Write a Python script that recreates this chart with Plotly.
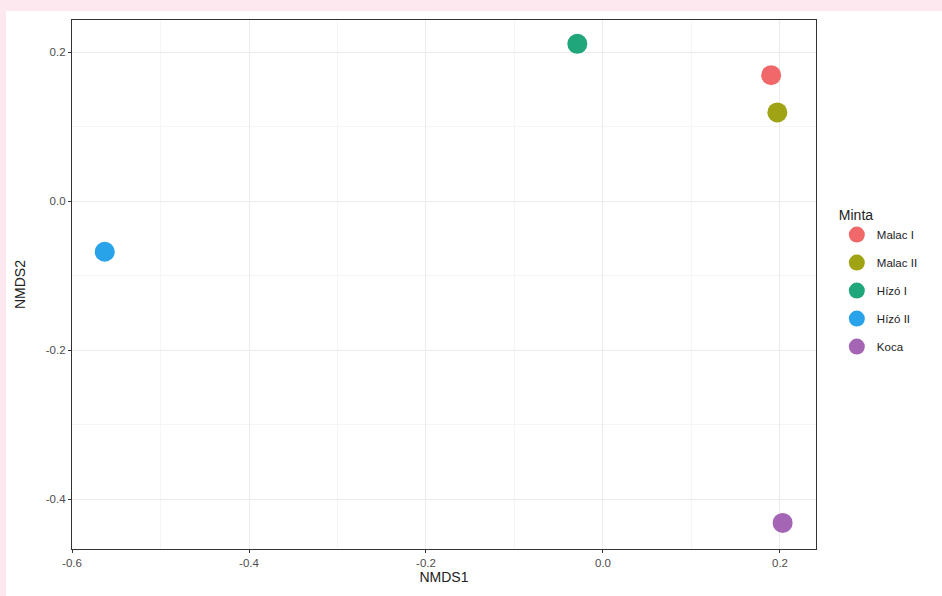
import plotly.graph_objects as go

# NMDS ordination scores per sample group
samples = ["Malac I", "Malac II", "Hízó I", "Hízó II", "Koca"]
nmds1 = [0.190, 0.197, -0.029, -0.563, 0.203]
nmds2 = [0.169, 0.119, 0.211, -0.068, -0.432]
colors = ["#F0686A", "#A0A313", "#1FA67A", "#28A2E8", "#A466B4"]

x_ticks = [-0.6, -0.4, -0.2, 0.0, 0.2]
y_ticks = [-0.4, -0.2, 0.0, 0.2]

fig = go.Figure()
for name, x, y, c in zip(samples, nmds1, nmds2, colors):
    fig.add_trace(go.Scatter(
        x=[x], y=[y], mode="markers", name=name, legendgroup=name,
        marker=dict(size=20, color=c, line=dict(width=0)),
    ))

axis_common = dict(
    showgrid=True, gridcolor="#EBEBEB", gridwidth=1.1,
    zeroline=False, showline=True, linecolor="#333333", linewidth=1.3,
    mirror=True, ticks="outside", ticklen=3, tickcolor="#333333", tickwidth=1.1,
    tickfont=dict(family="Liberation Sans, Arial", size=11.5, color="#4D4D4D"),
    title_font=dict(family="Liberation Sans, Arial", size=14, color="#222222"),
    minor=dict(showgrid=True, gridcolor="#F5F5F5", gridwidth=0.6),
)

fig.update_xaxes(
    **axis_common, range=[-0.6, 0.2407], tickvals=x_ticks,
    ticktext=[f"{v:.1f}" for v in x_ticks], title_text="NMDS1", title_standoff=4,
)
fig.update_yaxes(
    **axis_common, range=[-0.467, 0.243], tickvals=y_ticks,
    ticktext=[f"{v:.1f}" for v in y_ticks], title_text="NMDS2", title_standoff=16,
)
fig.update_xaxes(minor=dict(tickvals=[-0.5, -0.3, -0.1, 0.1]))
fig.update_yaxes(minor=dict(tickvals=[-0.3, -0.1, 0.1]))

# white figure canvas over the pink page background
fig.add_shape(type="rect", xref="paper", yref="paper",
              x0=-0.0887, x1=1.17, y0=-0.09, y1=1.017,
              fillcolor="white", line=dict(width=0), layer="below")

fig.update_layout(
    width=942, height=596,
    margin=dict(l=72, r=126, t=20, b=47),
    paper_bgcolor="#FCE8EE", plot_bgcolor="white",
    font=dict(family="Liberation Sans, Arial", color="#222222"),
    legend=dict(
        title=dict(text="Minta", font=dict(size=14, color="#222222")),
        font=dict(size=11.5, color="#222222"),
        x=1.028, xanchor="left", y=0.505, yanchor="middle",
        tracegroupgap=9, itemsizing="trace", bgcolor="rgba(0,0,0,0)",
    ),
    showlegend=True,
)

fig.write_html("out.html")
